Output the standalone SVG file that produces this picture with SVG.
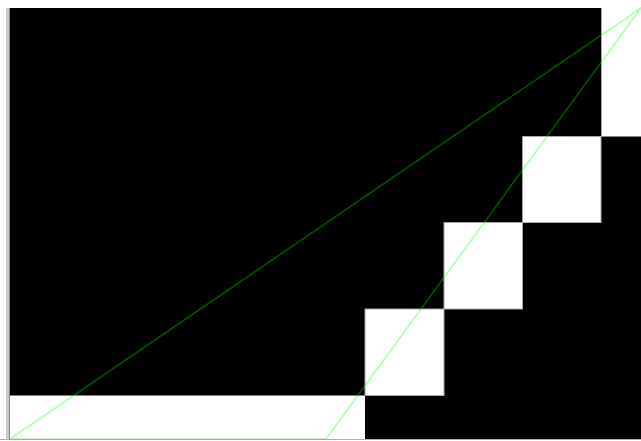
<svg xmlns="http://www.w3.org/2000/svg" width="641" height="441" viewBox="0 0 641 441">
  <style>
    .cell { fill: #ffffff; stroke: #a8a8a8; stroke-width: 1; }
    .tri { fill: none; stroke: #00ff00; stroke-opacity: 0.33; stroke-width: 1.6; stroke-linejoin: round; }
  </style>
  <rect x="0" y="0" width="641" height="441" fill="#ffffff"/>
  <rect x="6" y="8" width="4" height="432" fill="#c8c8c8"/>
  <line x1="0" y1="439.5" x2="641" y2="439.5" stroke="#b0b0b0" stroke-width="1"/>
  <polygon points="10,8 601,8 601,136.5 641,136.5 641,439 365,439 365,395.5 10,395.5" fill="#000000"/>
  <line x1="601.5" y1="8" x2="601.5" y2="136.5" stroke="#a8a8a8" stroke-width="1"/>
  <line x1="9.5" y1="8" x2="9.5" y2="440" stroke="#888888" stroke-width="1"/>
  <rect class="cell" x="365" y="309" width="79" height="86.5"/>
  <rect class="cell" x="444" y="222.5" width="78.5" height="86.5"/>
  <rect class="cell" x="522.5" y="136.5" width="78.5" height="86"/>
  <polygon class="tri" points="10,439 326,439 641,8"/>
</svg>
